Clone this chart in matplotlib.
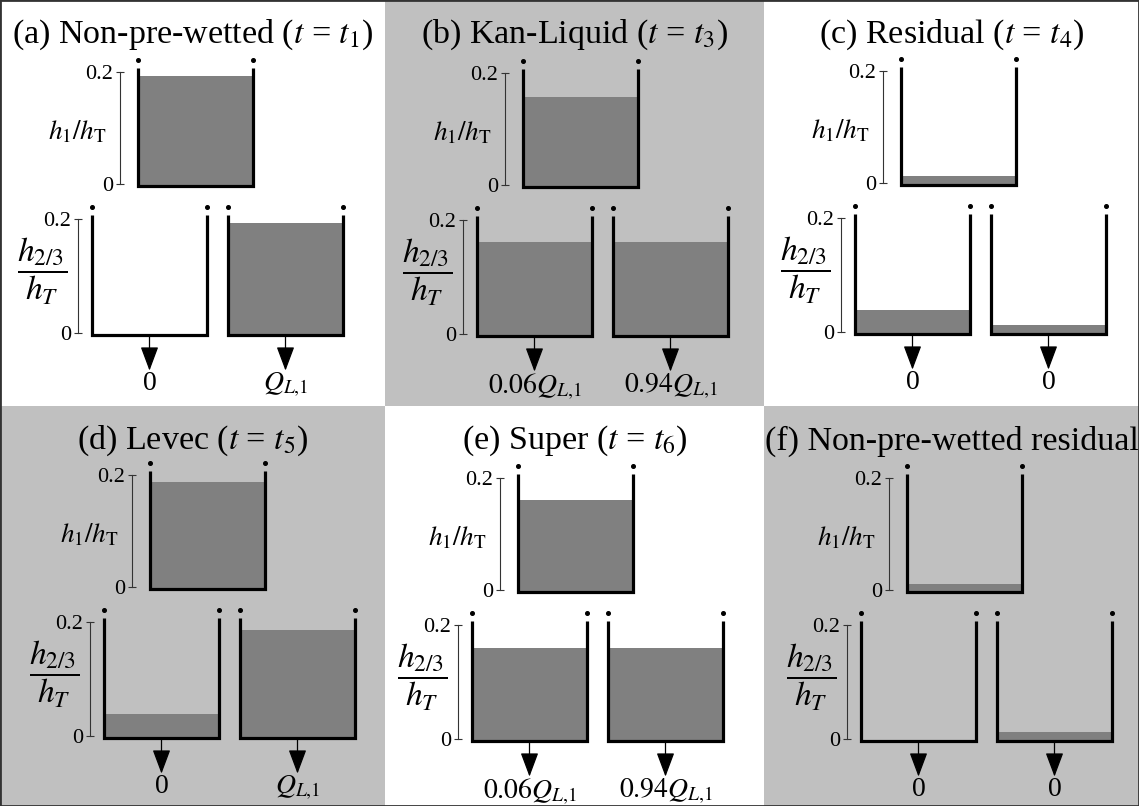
import matplotlib
matplotlib.use("Agg")
import matplotlib.pyplot as plt
from matplotlib.patches import Rectangle

plt.rcParams['font.family'] = ['Liberation Serif', 'DejaVu Serif']
plt.rcParams['mathtext.fontset'] = 'stix'

# panel titles and liquid levels (h/h_T) in the upper tank and the two lower tanks
titles = ['(a) Non-pre-wetted ($t$ = $t_1$)', '(b) Kan-Liquid ($t$ = $t_3$)',
          '(c) Residual ($t$ = $t_4$)', '(d) Levec ($t$ = $t_5$)',
          '(e) Super ($t$ = $t_6$)', '(f) Non-pre-wetted residual']
top_level = [0.193, 0.158, 0.012, 0.188, 0.160, 0.010]
left_level = [0.0, 0.161, 0.039, 0.039, 0.159, 0.0]
right_level = [0.193, 0.161, 0.012, 0.186, 0.159, 0.012]
left_flow = ['0', '$0.06Q_{L{,}1}$', '0', '0', '$0.06Q_{L{,}1}$', '0']
right_flow = ['$Q_{L{,}1}$', '$0.94Q_{L{,}1}$', '0', '$Q_{L{,}1}$', '$0.94Q_{L{,}1}$', '0']
y_ticks = [0, 0.2]
y_ticklabels = ['0', '0.2']

bg = ['white', '#c0c0c0', 'white', '#c0c0c0', 'white', '#c0c0c0']
fill_color = '#808080'

W, H = 1139, 806
col_x = [0, 385, 764, 1139]
row_y = [0, 406, 806]
# small per-panel nudges (px)
dx = [0, 0, -1, 12, -5, 5]
dy = [0, 1, -1, -3, 0, 0]

fig = plt.figure(figsize=(W / 100, H / 100), dpi=100)
PT = 0.72  # points per pixel


def add_px_axes(x, y_top, w, h):
    return fig.add_axes([x / W, 1 - (y_top + h) / H, w / W, h / H])


def draw_tank(ax, level, flow=None):
    ax.set_xlim(0, 1)
    ax.set_ylim(0, 0.2)
    ax.patch.set_alpha(0)
    for s in ax.spines.values():
        s.set_visible(False)
    ax.set_xticks([])
    ax.set_yticks([])
    if level > 0:
        ax.bar(0.5, level + 0.005, width=1, bottom=-0.005, color=fill_color,
               linewidth=0, zorder=1, clip_on=False)
    ax.plot([0, 0, 1, 1], [0.207, -0.004, -0.004, 0.207], color='k', lw=2.3,
            solid_joinstyle='miter', solid_capstyle='butt', clip_on=False, zorder=3)
    ax.plot([0, 1], [0.221, 0.221], 'o', ms=2.6, color='k', clip_on=False, zorder=3)
    if flow is not None:
        ax.annotate('', xy=(0.5, -0.066), xytext=(0.5, -0.004),
                    arrowprops=dict(arrowstyle='-|>,head_length=0.75,head_width=0.28',
                                    mutation_scale=20, color='k', lw=0.9,
                                    shrinkA=0, shrinkB=0), annotation_clip=False)
        ax.text(0.5, -0.066, flow, ha='center', va='top', fontsize=20)


def add_scale(ax, offset_px, label, label_dx, label_y, label_size):
    sp = ax.spines['left']
    sp.set_visible(True)
    sp.set_position(('outward', offset_px * PT))
    sp.set_bounds(0, 0.2)
    sp.set_color('#333333')
    sp.set_linewidth(0.8)
    ax.set_yticks(y_ticks)
    ax.set_yticklabels(y_ticklabels)
    ax.tick_params(axis='y', direction='inout', length=6, width=0.8,
                   labelsize=16, pad=2, color='#333333')
    ax.annotate(label, xy=(0, label_y), xycoords=('axes fraction', 'data'),
                xytext=(-label_dx * PT, 0), textcoords='offset points',
                ha='center', va='center', fontsize=label_size, annotation_clip=False)


for i in range(6):
    c, r = i % 3, i // 3
    x0, y0 = col_x[c], row_y[r]
    cw, ch = col_x[c + 1] - x0, row_y[r + 1] - y0
    fig.add_artist(Rectangle((x0 / W, 1 - (y0 + ch) / H), cw / W, ch / H,
                             transform=fig.transFigure, fc=bg[i], ec='none', zorder=0))
    fig.text((x0 + cw / 2) / W, 1 - (y0 + 35) / H, titles[i],
             ha='center', va='center', fontsize=24.5)

    ox, oy = x0 + dx[i], y0 + dy[i]
    ax_top = add_px_axes(ox + 138, oy + 72, 115, 112)
    draw_tank(ax_top, top_level[i])
    add_scale(ax_top, 18, r'$h_1/h_\mathrm{T}$', 61, 0.092, 19.5)

    ax_l = add_px_axes(ox + 92, oy + 219, 115, 114)
    draw_tank(ax_l, left_level[i], left_flow[i])
    add_scale(ax_l, 14, r'$\dfrac{h_{2/3}}{h_T}$', 50, 0.108, 24)

    ax_r = add_px_axes(ox + 228, oy + 219, 115, 114)
    draw_tank(ax_r, right_level[i], right_flow[i])

fig.add_artist(Rectangle((0, 0), 1, 1, transform=fig.transFigure, fill=False,
                         ec='#333333', lw=2, zorder=10))

fig.savefig('out.png', dpi=100)
